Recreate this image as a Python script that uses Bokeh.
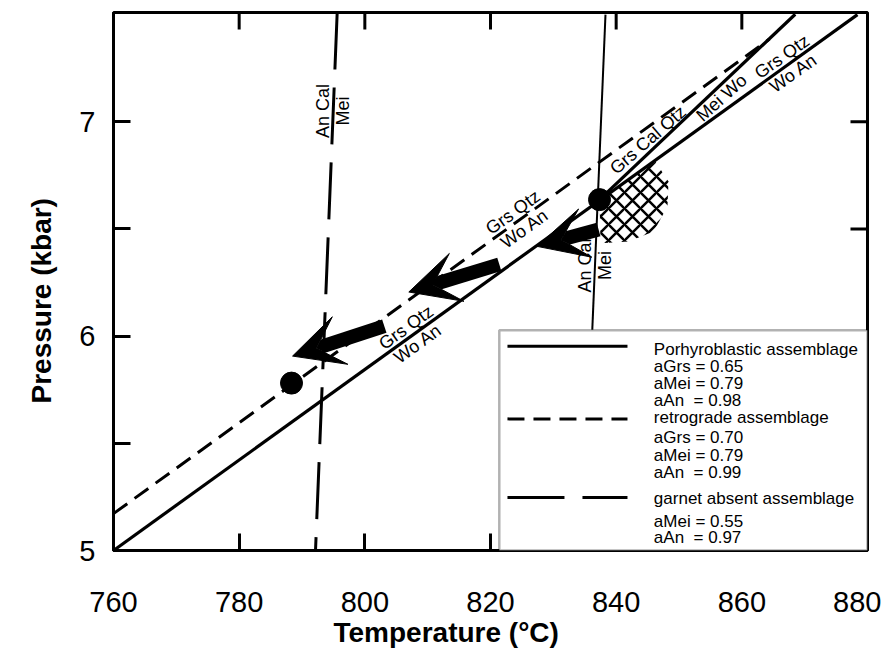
import numpy as np
from bokeh.plotting import figure
from bokeh.models import (Range1d, FixedTicker, Label, Arrow, VeeHead, Title,
                          BoxAnnotation, ColumnDataSource)
from bokeh.embed import file_html
from bokeh.resources import INLINE

# ---------------- data ----------------
x_ticks = [760, 780, 800, 820, 840, 860, 880]
y_ticks = [5, 6, 7]
y_minor = [5.5, 6.5]
T_MIN, T_MAX = 760, 880
P_MIN, P_MAX = 5.0, 7.51

# Grs + Qtz = Wo + An, porphyroblastic assemblage (solid)
porph_T = [760.0, 878.4]
porph_P = [5.00, 7.50]
# Grs + Qtz = Wo + An, retrograde assemblage (dashed)
retro_T = [760.0, 864.4]
retro_P = [5.172, 7.386]
# Grs + Cal + Qtz = Mei + Wo (solid, from the invariant point)
grscal_T = [837.35, 868.5]
grscal_P = [6.637, 7.502]
# An + Cal = Mei, porphyroblastic (solid, near vertical)
ancal_porph_T = [838.3, 836.2]
ancal_porph_P = [7.50, 6.03]
# An + Cal = Mei, garnet absent assemblage (long dashed)
ancal_gab_T = [795.6, 792.15]
ancal_gab_P = [7.51, 5.00]

# filled circles
dot_T = [837.35, 788.33]
dot_P = [6.637, 5.781]

# retrograde P-T arrows (tail -> head)
arrow_T0 = [803.1, 821.4, 837.2]
arrow_P0 = [6.047, 6.335, 6.498]
arrow_T1 = [788.5, 807.0, 827.4]
arrow_P1 = [5.907, 6.206, 6.419]

# cross-hatched field
hatch_T = [837.35, 846.27, 848.33, 848.17, 845.95, 841.97, 837.51]
hatch_P = [6.637, 6.814, 6.721, 6.605, 6.488, 6.442, 6.433]

# reaction labels: text, temperature (or pressure) along line, line id, angle (deg), side
lab_text = ["Grs Qtz", "Wo An", "Grs Qtz", "Wo An", "Grs Cal Qtz", "Mei Wo",
            "Grs Qtz", "Wo An", "An Cal", "Mei", "An Cal", "Mei"]
lab_T = [807.5, 807.5, 824.5, 824.5, 846.1, 855.7, 867.3, 867.3,
         None, None, None, None]
lab_P = [None, None, None, None, None, None, None, None, 7.05, 7.05, 6.33, 6.33]
lab_line = ["porph", "porph", "retro", "retro", "grscal", "grscal", "porph", "porph",
            "gab", "gab", "ancal", "ancal"]
lab_angle = [35.8, 35.8, 35.8, 35.8, 41, 42, 35, 35, 90, 90, 90, 90]
lab_side = ["bottom", "top", "bottom", "top", "bottom", "top", "bottom", "top",
            "bottom", "top", "bottom", "top"]

# legend
legend_text = ["Porhyroblastic assemblage", "aGrs = 0.65", "aMei = 0.79", "aAn\u00a0 = 0.98",
               "retrograde assemblage", "aGrs = 0.70", "aMei = 0.79", "aAn\u00a0 = 0.99",
               "garnet absent assemblage", "aMei = 0.55", "aAn\u00a0 = 0.97"]
legend_text_P = [5.940, 5.860, 5.781, 5.702, 5.619, 5.526, 5.442, 5.363, 5.242, 5.135, 5.060]
legend_line_P = [5.953, 5.614, 5.247]
legend_dash = ["solid", "17 9", "57 18"]

x_title = "Temperature (\u00b0C)"
y_title = "Pressure (kbar)"

FONT = "Liberation Sans"

# ---------------- figure ----------------
p = figure(width=881, height=656, x_range=Range1d(T_MIN, T_MAX), y_range=Range1d(P_MIN, P_MAX),
           output_backend="svg", toolbar_location=None,
           min_border_left=113, min_border_right=14, min_border_top=12, min_border_bottom=106)
p.grid.visible = False
p.outline_line_color = "black"
p.outline_line_width = 3
p.background_fill_color = "white"
p.border_fill_color = "white"


def style_axis(ax):
    ax.axis_line_width = 3
    ax.axis_line_color = "black"
    ax.major_tick_in = 17
    ax.major_tick_out = 0
    ax.minor_tick_in = 17
    ax.minor_tick_out = 0
    ax.major_tick_line_width = 3
    ax.minor_tick_line_width = 3
    ax.major_tick_line_color = "black"
    ax.minor_tick_line_color = "black"
    ax.major_label_text_font = FONT
    ax.major_label_text_color = "black"
    ax.major_label_text_font_size = "29px"


xb = p.below[0]
xb.ticker = FixedTicker(ticks=x_ticks)
style_axis(xb)
xb.major_label_standoff = 41

yl = p.left[0]
yl.ticker = FixedTicker(ticks=y_ticks, minor_ticks=y_minor)
style_axis(yl)
yl.major_label_standoff = 18

# mirrored inward ticks on the top and right frame edges
p.ray(x=x_ticks, y=[P_MAX] * len(x_ticks), length=17, length_units="screen",
      angle=-90, angle_units="deg", line_color="black", line_width=3)
yr_all = y_ticks + y_minor
p.ray(x=[T_MAX] * len(yr_all), y=yr_all, length=17, length_units="screen",
      angle=180, angle_units="deg", line_color="black", line_width=3)

# axis titles (slightly off-centre, as in the original)
p.add_layout(Title(text=x_title, align="left", offset=220, standoff=0,
                   text_font=FONT, text_font_style="bold", text_font_size="28px",
                   text_color="black"), "below")
p.add_layout(Title(text=y_title, align="left", offset=147, standoff=40,
                   text_font=FONT, text_font_style="bold", text_font_size="28px",
                   text_color="black"), "left")

# ---------------- reaction lines ----------------
p.line(porph_T, porph_P, line_color="black", line_width=3.2)
p.line(retro_T, retro_P, line_color="black", line_width=3, line_dash="17 9")
p.line(grscal_T, grscal_P, line_color="black", line_width=3.2)
p.line(ancal_porph_T, ancal_porph_P, line_color="black", line_width=2)
p.line(ancal_gab_T, ancal_gab_P, line_color="black", line_width=3, line_dash="57 18")

# cross-hatched field
p.patch(hatch_T, hatch_P, fill_alpha=0, line_alpha=0, hatch_pattern="diagonal_cross",
        hatch_color="black", hatch_scale=16, hatch_weight=2.5)

# reaction labels
lines = {"porph": (porph_T, porph_P), "retro": (retro_T, retro_P),
         "grscal": (grscal_T, grscal_P)}
vlines = {"gab": (ancal_gab_T, ancal_gab_P), "ancal": (ancal_porph_T, ancal_porph_P)}
for txt, T, P, ln, ang, side in zip(lab_text, lab_T, lab_P, lab_line, lab_angle, lab_side):
    if ln in lines:
        lx, ly = lines[ln]
        P = float(np.interp(T, lx, ly))
    else:
        lx, ly = vlines[ln]
        T = float(np.interp(P, ly[::-1], lx[::-1]))
    p.add_layout(Label(x=T, y=P, text=txt, angle=ang, angle_units="deg",
                       text_align="center", text_baseline=side,
                       text_font=FONT, text_font_size="18px", text_color="black"))

# dots
p.scatter(dot_T, dot_P, size=22, color="black")

# arrows
asrc = ColumnDataSource(dict(x0=arrow_T0, y0=arrow_P0, x1=arrow_T1, y1=arrow_P1))
p.add_layout(Arrow(source=asrc, x_start="x0", y_start="y0", x_end="x1", y_end="y1",
                   line_width=14, line_color="black", line_cap="butt",
                   end=VeeHead(size=50, fill_color="black", line_color="black", line_width=1)))

# ---------------- legend ----------------
box = BoxAnnotation(left=821.4, right=T_MAX, bottom=P_MIN, top=6.028,
                    fill_color="white", fill_alpha=1, line_color="black", line_width=2.5)
p.add_layout(box)
for P, dash in zip(legend_line_P, legend_dash):
    r = p.line([822.7, 841.8], [P, P], line_color="black", line_width=3, line_dash=dash)
    r.level = "overlay"
for txt, P in zip(legend_text, legend_text_P):
    lab = Label(x=846.0, y=P, text=txt, text_align="left", text_baseline="middle",
                text_font=FONT, text_font_size="17px", text_color="black")
    lab.level = "overlay"
    p.add_layout(lab)

open("out.html", "w").write(file_html(p, INLINE))
